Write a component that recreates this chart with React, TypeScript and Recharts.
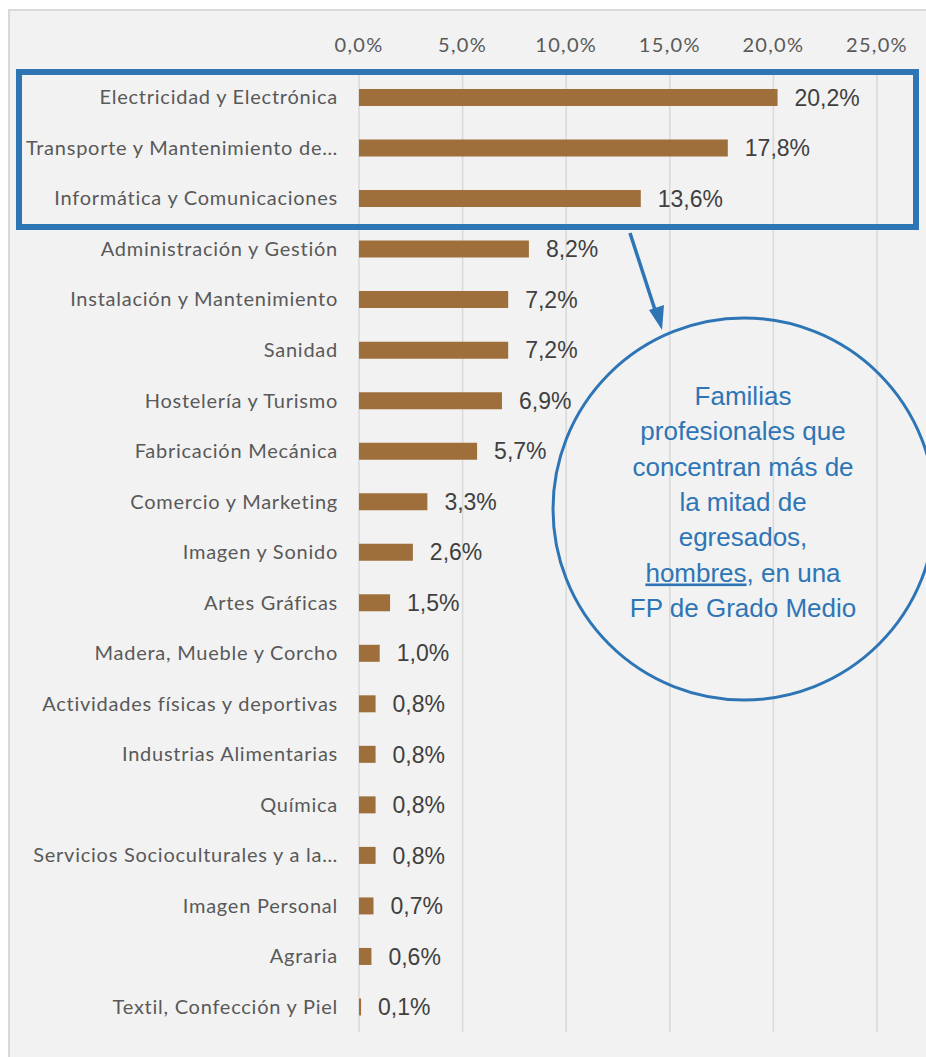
import { BarChart, Bar, XAxis, YAxis, CartesianGrid, LabelList } from "recharts";

const familias = [
  "Electricidad y Electrónica",
  "Transporte y Mantenimiento de…",
  "Informática y Comunicaciones",
  "Administración y Gestión",
  "Instalación y Mantenimiento",
  "Sanidad",
  "Hostelería y Turismo",
  "Fabricación Mecánica",
  "Comercio y Marketing",
  "Imagen y Sonido",
  "Artes Gráficas",
  "Madera, Mueble y Corcho",
  "Actividades físicas y deportivas",
  "Industrias Alimentarias",
  "Química",
  "Servicios Socioculturales y a la…",
  "Imagen Personal",
  "Agraria",
  "Textil, Confección y Piel",
];

const porcentajes = [20.2, 17.8, 13.6, 8.2, 7.2, 7.2, 6.9, 5.7, 3.3, 2.6, 1.5, 1.0, 0.8, 0.8, 0.8, 0.8, 0.7, 0.6, 0.1];

const ticksX = [0, 5, 10, 15, 20, 25];

const notaLineas = [
  "Familias",
  "profesionales que",
  "concentran más de",
  "la mitad de",
  "egresados,",
];
const notaFinal = "FP de Grado Medio";

const data = familias.map((name, i) => ({ name, value: porcentajes[i] }));

const pct = (v: number) => v.toFixed(1).replace(".", ",") + "%";

const AZUL = "#2E75B6";
const calibri = "Lato, 'Open Sans', sans-serif";

export default function App() {
  return (
    <div style={{ position: "absolute", left: 0, top: 0, width: 926, height: 1057, overflow: "hidden", background: "#fff" }}>
      <div
        style={{
          position: "absolute",
          left: 8,
          top: 9,
          width: 960,
          height: 1080,
          background: "#f2f2f2",
          borderTop: "2px solid #d9d9d9",
          borderLeft: "2px solid #d9d9d9",
          boxSizing: "border-box",
        }}
      />
      <div style={{ position: "absolute", left: 0, top: 0 }}>
        <BarChart
          width={926}
          height={1057}
          data={data}
          layout="vertical"
          margin={{ top: 20, right: 49, bottom: 25, left: 0 }}
        >
          <CartesianGrid horizontal={false} stroke="#d9d9d9" strokeWidth={1.5} />
          <XAxis
            type="number"
            orientation="top"
            domain={[0, 25]}
            ticks={ticksX}
            tickFormatter={pct}
            height={52}
            axisLine={false}
            tickLine={false}
            tickSize={0}
            tickMargin={20}
            tick={{ fill: "#595959", fontSize: 20, fontFamily: calibri, letterSpacing: 1.3 }}
          />
          <YAxis
            type="category"
            dataKey="name"
            width={359}
            axisLine={false}
            tickLine={false}
            tickSize={0}
            tickMargin={21}
            interval={0}
            tick={{ fill: "#595959", fontSize: 20, fontFamily: calibri, letterSpacing: 0.75 }}
          />
          <Bar dataKey="value" fill="#9E6F3A" barSize={17} isAnimationActive={false}>
            <LabelList
              dataKey="value"
              position="right"
              offset={17}
              formatter={(v: any) => pct(Number(v))}
              style={{ fill: "#404040", fontSize: 23, fontFamily: "'Liberation Sans', Arial, sans-serif" }}
            />
          </Bar>
        </BarChart>
      </div>
      <svg width={926} height={1057} style={{ position: "absolute", left: 0, top: 0, pointerEvents: "none" }}>
        <rect x={19} y={72} width={897} height={155} fill="none" stroke={AZUL} strokeWidth={6} />
        <line x1={630} y1={233} x2={656} y2={313} stroke={AZUL} strokeWidth={3.5} />
        <polygon points="662,330 649,310 664,305" fill={AZUL} />
        <circle cx={744} cy={509} r={191} fill="none" stroke={AZUL} strokeWidth={3} />
        <g fill={AZUL} fontSize={26} fontFamily="'Liberation Sans', Arial, sans-serif" textAnchor="middle">
          {notaLineas.map((t, i) => (
            <text key={t} x={743} y={405 + i * 35.3}>
              {t}
            </text>
          ))}
          <text x={743} y={405 + 5 * 35.3}>
            <tspan textDecoration="underline">hombres</tspan>, en una
          </text>
          <text x={743} y={405 + 6 * 35.3}>
            {notaFinal}
          </text>
        </g>
      </svg>
    </div>
  );
}
